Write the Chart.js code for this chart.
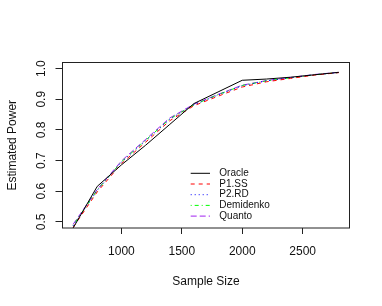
<!DOCTYPE html>
<html><head><meta charset="utf-8">
<script src="https://cdn.jsdelivr.net/npm/chart.js@4/dist/chart.umd.min.js"></script>
<style>html,body{margin:0;padding:0;background:#fff;}canvas{display:block;}</style>
</head><body>
<canvas id="c" width="382" height="306"></canvas>
<script>
const sampleSizes = [600, 800, 1000, 1200, 1400, 1600, 1800, 2000, 2200, 2400, 2600, 2800];
const oracle    = [0.480, 0.616, 0.686, 0.750, 0.818, 0.886, 0.924, 0.962, 0.966, 0.972, 0.980, 0.988];
const p1ss      = [0.482, 0.598, 0.690, 0.760, 0.830, 0.879, 0.910, 0.940, 0.957, 0.968, 0.979, 0.987];
const p2rd      = [0.487, 0.603, 0.695, 0.765, 0.835, 0.882, 0.914, 0.944, 0.960, 0.970, 0.980, 0.987];
const demidenko = [0.488, 0.604, 0.696, 0.766, 0.836, 0.882, 0.915, 0.945, 0.960, 0.970, 0.980, 0.987];
const quanto    = [0.492, 0.606, 0.699, 0.769, 0.839, 0.884, 0.916, 0.946, 0.961, 0.971, 0.981, 0.988];
const seriesNames = ["Oracle", "P1.SS", "P2.RD", "Demidenko", "Quanto"];
const xTicks = [1000, 1500, 2000, 2500];
const yTicks = [0.5, 0.6, 0.7, 0.8, 0.9, 1.0];
const xTitle = "Sample Size";
const yTitle = "Estimated Power";

const FONT = '"Liberation Sans", Arial, Helvetica, sans-serif';
const styles = [
  {color: '#000000', dash: []},
  {color: '#FF0000', dash: [4, 4]},
  {color: '#0000FF', dash: [1, 3]},
  {color: '#00FF00', dash: [1, 3, 4, 3]},
  {color: '#A020F0', dash: [6, 3]}
];
const values = [oracle, p1ss, p2rd, demidenko, quanto];

const datasets = values.map((v, i) => ({
  label: seriesNames[i],
  data: sampleSizes.map((s, j) => ({x: s, y: v[j]})),
  borderColor: styles[i].color,
  borderDash: styles[i].dash,
  borderWidth: 1,
  pointRadius: 0,
  tension: 0,
  fill: false
}));

const decor = {
  id: 'decor',
  afterDraw(chart) {
    const ctx = chart.ctx, a = chart.chartArea;
    const ys = chart.scales.y;
    ctx.save();
    ctx.strokeStyle = '#222';
    ctx.lineWidth = 1;
    ctx.setLineDash([]);
    ctx.strokeRect(a.left, a.top, a.right - a.left, a.bottom - a.top);
    ctx.fillStyle = '#111';
    // rotated y tick labels
    ctx.font = '12px ' + FONT;
    ctx.textAlign = 'center';
    ctx.textBaseline = 'middle';
    yTicks.forEach(t => {
      const py = ys.getPixelForValue(t);
      ctx.save();
      ctx.translate(41.7, py);
      ctx.rotate(-Math.PI / 2);
      ctx.fillText(t.toFixed(1), 0, 0);
      ctx.restore();
    });
    // axis titles
    ctx.fillText(xTitle, (a.left + a.right) / 2, 281.5);
    ctx.save();
    ctx.translate(12.3, (a.top + a.bottom) / 2);
    ctx.rotate(-Math.PI / 2);
    ctx.fillText(yTitle, 0, 0);
    ctx.restore();
    // legend
    ctx.font = '10px ' + FONT;
    ctx.textAlign = 'left';
    chart.data.datasets.forEach((d, i) => {
      const y = 173.3 + i * 10.7;
      ctx.strokeStyle = d.borderColor;
      ctx.setLineDash(d.borderDash);
      ctx.beginPath();
      ctx.moveTo(190.7, y);
      ctx.lineTo(210, y);
      ctx.stroke();
      ctx.fillStyle = '#111';
      ctx.fillText(d.label, 219.3, y);
    });
    ctx.restore();
  }
};

new Chart(document.getElementById('c'), {
  type: 'line',
  data: {datasets},
  options: {
    responsive: false,
    animation: false,
    devicePixelRatio: 1,
    layout: {padding: {top: 62.5, right: 32.5, left: 0, bottom: 0}},
    plugins: {legend: {display: false}, tooltip: {enabled: false}},
    scales: {
      x: {
        type: 'linear', min: 512, max: 2888,
        afterBuildTicks: s => { s.ticks = xTicks.map(v => ({value: v})); },
        afterFit: s => { s.height = 78; },
        grid: {drawOnChartArea: false, drawTicks: true, tickLength: 6, color: '#222', lineWidth: 1},
        border: {display: false},
        ticks: {font: {family: FONT, size: 12}, color: '#111', padding: 10, maxRotation: 0, autoSkip: false,
                callback: v => String(v)}
      },
      y: {
        type: 'linear', min: 0.48, max: 1.02,
        afterBuildTicks: s => { s.ticks = yTicks.map(v => ({value: v})); },
        afterFit: s => { s.width = 62.5; },
        grid: {drawOnChartArea: false, drawTicks: true, tickLength: 7, color: '#222', lineWidth: 1},
        border: {display: false},
        ticks: {color: 'rgba(0,0,0,0)', font: {family: FONT, size: 12}}
      }
    }
  },
  plugins: [decor]
});
</script>
</body></html>
